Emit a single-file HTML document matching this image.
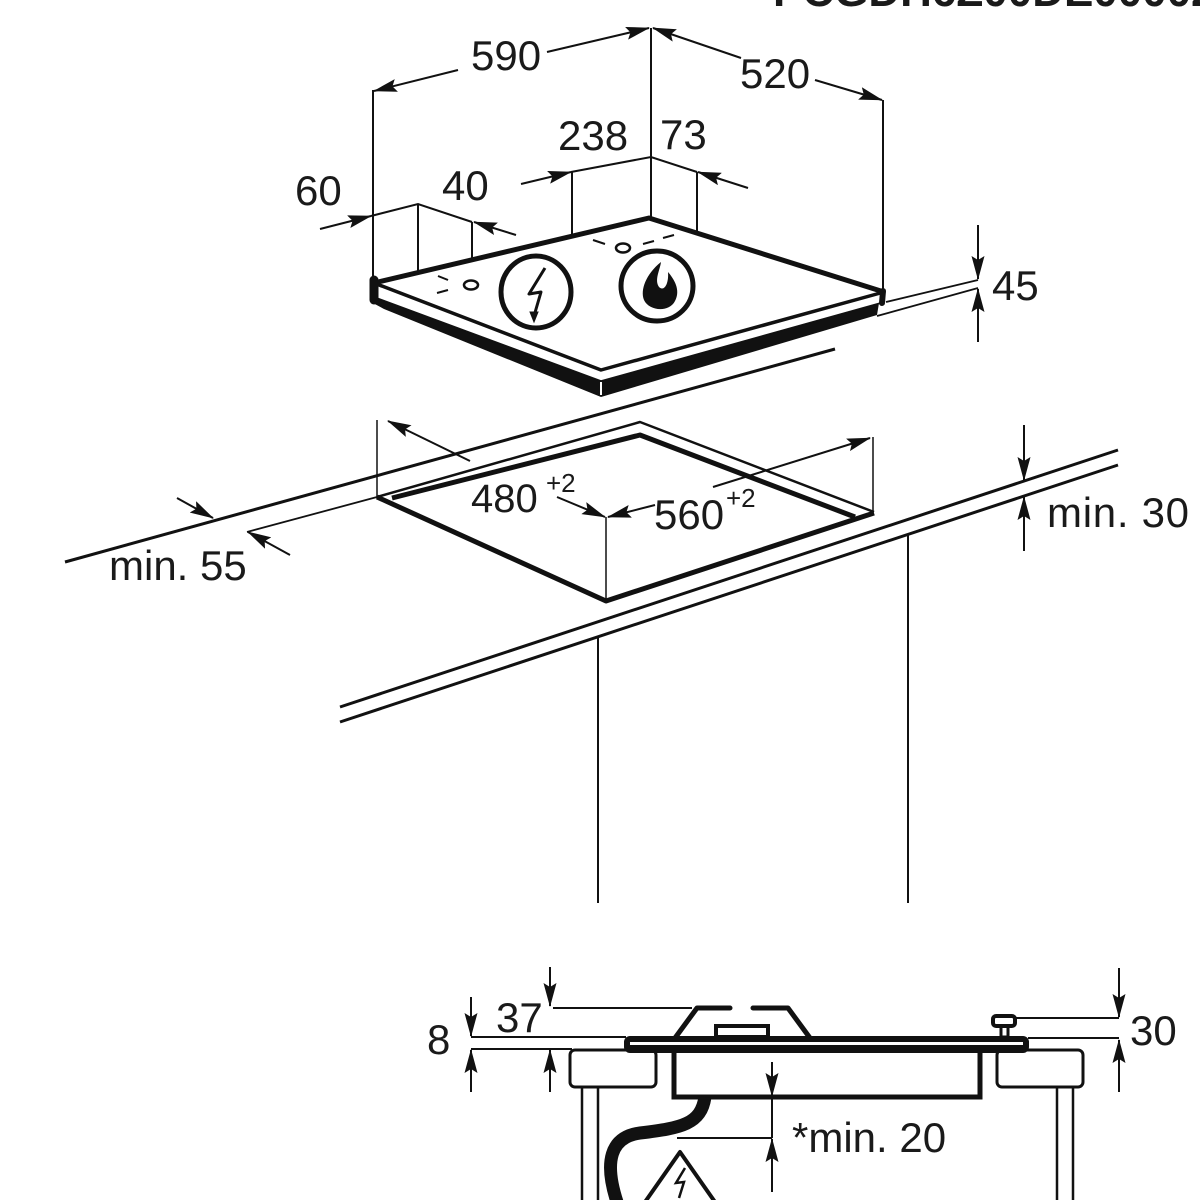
<!DOCTYPE html>
<html><head><meta charset="utf-8"><style>
html,body{margin:0;padding:0;background:#fff;}
svg{display:block;}
text{font-family:"Liberation Sans",Arial,sans-serif;fill:#1a1a1a;}
</style></head><body>
<svg width="1200" height="1200" viewBox="0 0 1200 1200" xmlns="http://www.w3.org/2000/svg">
<defs>
<marker id="a" markerWidth="24" markerHeight="13" refX="23" refY="6.5" orient="auto" markerUnits="userSpaceOnUse"><path d="M0,0 L24,6.5 L0,13 L4,6.5 z" fill="#111"/></marker>
</defs>
<rect width="1200" height="1200" fill="#fff"/>

<!-- cropped header text -->
<text x="773" y="6" font-size="44" font-weight="bold" fill="#111">PCGDH6Z00DE0000Z</text>

<g stroke="#111" fill="none" stroke-width="2">
<!-- top dimension lines -->
<line x1="651" y1="28" x2="651" y2="218"/>
<line x1="373" y1="90" x2="373" y2="282"/>
<line x1="883" y1="100" x2="883" y2="291"/>
<path d="M458,70 L374,91" marker-end="url(#a)"/>
<path d="M547,52 L649,28" marker-end="url(#a)"/>
<path d="M741,58 L653,28" marker-end="url(#a)"/>
<path d="M815,80 L882,100" marker-end="url(#a)"/>
<!-- 238 / 73 -->
<path d="M521,184 L571,172" marker-end="url(#a)"/>
<path d="M571,172 L651,157 L697,172"/>
<path d="M748,188 L698,172" marker-end="url(#a)"/>
<line x1="572" y1="172" x2="572" y2="235"/>
<line x1="697" y1="172" x2="697" y2="233"/>
<!-- 60 / 40 -->
<path d="M320,229 L371,216" marker-end="url(#a)"/>
<path d="M371,216 L418,204 L472,222"/>
<path d="M516,235 L474,222" marker-end="url(#a)"/>
<line x1="418" y1="204" x2="418" y2="271"/>
<line x1="472" y1="222" x2="472" y2="281"/>

<!-- long countertop back line -->
<line x1="65" y1="562" x2="835" y2="349" stroke-width="3"/>
</g>

<!-- hob 3D -->
<polygon points="373,292 601,381 879,303 877,315 601,397 384,309 371,302" fill="#111"/>
<polygon points="374,283 601,370 884,292 884,302 601,381 374,297" fill="#fff" stroke="#111" stroke-width="1.5" stroke-linejoin="round"/>
<polygon points="374,283 649,218 884,292 601,370" fill="#fff" stroke="#111" stroke-width="3.5" stroke-linejoin="round"/>
<line x1="601" y1="382" x2="601" y2="395" stroke="#fff" stroke-width="2"/>
<polyline points="374,283 649,218 884,292" fill="none" stroke="#111" stroke-width="5" stroke-linejoin="round"/>
<line x1="374" y1="280" x2="374" y2="300" stroke="#111" stroke-width="9" stroke-linecap="round"/>
<line x1="883" y1="291" x2="882" y2="303" stroke="#111" stroke-width="6" stroke-linecap="round"/>

<g stroke="#111" fill="none" stroke-width="2">
<line x1="886" y1="302" x2="978" y2="280" stroke-width="1.8"/>
<line x1="877" y1="316" x2="978" y2="288" stroke-width="1.8"/>
<path d="M978,225 L978,279" marker-end="url(#a)"/>
<path d="M978,342 L978,289" marker-end="url(#a)"/>
<!-- dashes and small holes -->
<line x1="438" y1="276" x2="448" y2="280"/>
<line x1="437" y1="293" x2="448" y2="290"/>
<line x1="593" y1="240" x2="605" y2="244"/>
<line x1="643" y1="244" x2="654" y2="241"/>
<line x1="663" y1="238" x2="674" y2="235"/>
<ellipse cx="471" cy="285" rx="7" ry="4.5" stroke-width="2.5"/>
<ellipse cx="623" cy="248" rx="7" ry="4.5" stroke-width="2.5"/>
<!-- symbols -->
<ellipse cx="536" cy="292" rx="35" ry="36" stroke-width="5"/>
<path d="M545,268 L529,294 L541,292 L534,316" stroke-width="3" stroke-linejoin="round"/>
<path d="M530,312 L534,322 L538,312 z" fill="#111" stroke-width="1"/>
<ellipse cx="657" cy="286" rx="36" ry="35" stroke-width="5"/>
</g>
<path d="M661,262 C646,274 640,290 644,300 C649,311 669,313 675,301 C681,290 674,279 668,272 C669,284 664,292 659,287 C654,280 660,270 661,262 Z" fill="#111"/>

<!-- cutout -->
<g stroke="#111" fill="none" stroke-linejoin="round">
<line x1="247" y1="532" x2="377" y2="497" stroke-width="1.8"/>
<polyline points="377,497 640,422 874,512" stroke-width="2.5"/>
<polyline points="392,498 640,435 855,517" stroke-width="5"/>
<polyline points="377,497 606,601 874,513" stroke-width="5"/>
</g>
<g stroke="#111" fill="none" stroke-width="2">
<line x1="377" y1="420" x2="377" y2="497" stroke-width="1.5"/>
<path d="M470,461 L388,421" marker-end="url(#a)"/>
<line x1="873" y1="437" x2="873" y2="512" stroke-width="1.5"/>
<path d="M713,487 L870,438" marker-end="url(#a)"/>
<path d="M557,497 L605,517" marker-end="url(#a)"/>
<path d="M655,505 L608,517" marker-end="url(#a)"/>
<line x1="606" y1="517" x2="606" y2="600" stroke-width="1.5"/>
<path d="M177,498 L213,518" marker-end="url(#a)"/>
<path d="M290,555 L248,532" marker-end="url(#a)"/>
<!-- front countertop -->
<line x1="340" y1="707" x2="1118" y2="450" stroke-width="3"/>
<line x1="340" y1="722" x2="1118" y2="465" stroke-width="3"/>
<line x1="598" y1="637" x2="598" y2="903"/>
<line x1="908" y1="535" x2="908" y2="903"/>
<path d="M1024,425 L1024,480" marker-end="url(#a)"/>
<path d="M1024,551 L1024,497" marker-end="url(#a)"/>
</g>

<!-- bottom section -->
<g stroke="#111" fill="none" stroke-width="2">
<line x1="553" y1="1008" x2="692" y2="1008"/>
<line x1="471" y1="1037" x2="626" y2="1037"/>
<line x1="471" y1="1049" x2="572" y2="1049"/>
<line x1="1012" y1="1018" x2="1119" y2="1018"/>
<line x1="1028" y1="1038" x2="1119" y2="1038"/>
<path d="M550,967 L550,1006" marker-end="url(#a)"/>
<path d="M550,1092 L550,1050" marker-end="url(#a)"/>
<path d="M471,997 L471,1036" marker-end="url(#a)"/>
<path d="M471,1092 L471,1050" marker-end="url(#a)"/>
<path d="M1119,968 L1119,1017" marker-end="url(#a)"/>
<path d="M1119,1092 L1119,1040" marker-end="url(#a)"/>
<!-- legs -->
<line x1="582" y1="1087" x2="582" y2="1200" stroke-width="2.5"/>
<line x1="598" y1="1087" x2="598" y2="1200" stroke-width="2.5"/>
<line x1="1057" y1="1087" x2="1057" y2="1200" stroke-width="2.5"/>
<line x1="1073" y1="1087" x2="1073" y2="1200" stroke-width="2.5"/>
</g>
<g stroke="#111">
<rect x="570" y="1050" width="86" height="37" rx="5" fill="#fff" stroke-width="3"/>
<rect x="997" y="1050" width="86" height="37" rx="5" fill="#fff" stroke-width="3"/>
<rect x="674" y="1048" width="306" height="49" fill="#fff" stroke-width="5"/>
<rect x="716" y="1026" width="52" height="11" fill="#fff" stroke-width="4"/>
<path d="M675,1038 L697,1008 L730,1008 M753,1008 L788,1008 L810,1038" fill="none" stroke-width="5" stroke-linecap="round" stroke-linejoin="round"/>
<rect x="1001" y="1025" width="7" height="12" fill="#fff" stroke-width="3"/>
<rect x="993" y="1016" width="22" height="10" rx="3" fill="#fff" stroke-width="4"/>
</g>
<rect x="624" y="1036" width="405" height="17" rx="6" fill="#111"/>
<rect x="630" y="1042" width="393" height="3" fill="#fff"/>
<g stroke="#111" fill="none" stroke-width="2">
<path d="M772,1062 L772,1096" marker-end="url(#a)"/>
<line x1="772" y1="1097" x2="772" y2="1138"/>
<path d="M772,1192 L772,1139" marker-end="url(#a)"/>
<line x1="677" y1="1138" x2="772" y2="1138"/>
</g>
<path d="M705,1097 C701,1124 682,1128 640,1133 C610,1137 604,1162 617,1202" fill="none" stroke="#111" stroke-width="13"/>
<path d="M645,1202 L680,1152 L715,1202" fill="#fff" stroke="#111" stroke-width="4" stroke-linejoin="round"/>
<path d="M685,1168 L676,1183 L684,1182 L679,1198" fill="none" stroke="#111" stroke-width="2.5"/>

<!-- labels -->
<g font-size="42">
<text x="471" y="70">590</text>
<text x="740" y="88">520</text>
<text x="558" y="150">238</text>
<text x="660" y="149">73</text>
<text x="295" y="205">60</text>
<text x="442" y="200">40</text>
<text x="992" y="300">45</text>
<text x="471" y="512" font-size="40">480</text>
<text x="654" y="529">560</text>
<text x="109" y="580">min. 55</text>
<text x="1047" y="527" textLength="142">min. 30</text>
<text x="496" y="1032">37</text>
<text x="427" y="1054">8</text>
<text x="1130" y="1045">30</text>
<text x="792" y="1152">*min. 20</text>
</g>
<text x="546" y="492" font-size="26">+2</text>
<text x="726" y="507" font-size="26">+2</text>
</svg>
</body></html>
